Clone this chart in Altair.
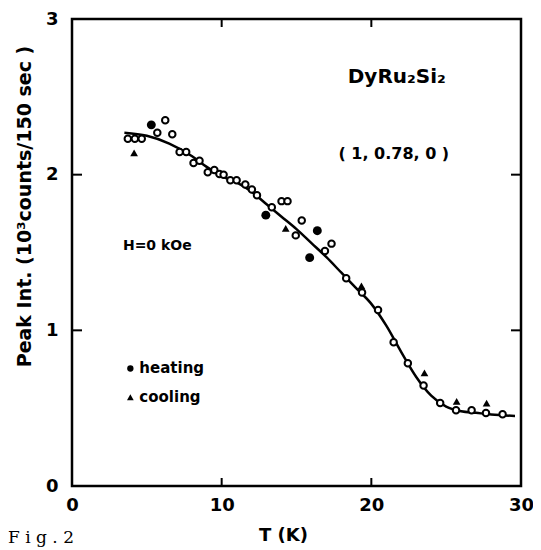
import altair as alt
import pandas as pd

# ---- data ----
open_T = [3.73, 4.2, 4.66, 5.7, 6.23, 6.7, 7.19, 7.63, 8.12, 8.52, 9.07, 9.51, 9.85, 10.13,
          10.58, 11.0, 11.58, 12.02, 12.36, 13.35, 14.0, 14.4, 15.35, 14.95, 16.9, 17.34,
          18.32, 19.38, 20.45, 21.49, 22.44, 23.49, 24.6, 25.66, 26.7, 27.66, 28.77]
open_I = [2.23, 2.23, 2.23, 2.27, 2.35, 2.26, 2.145, 2.145, 2.075, 2.09, 2.015, 2.03, 2.005, 2.0,
          1.964, 1.964, 1.937, 1.905, 1.868, 1.79, 1.83, 1.83, 1.706, 1.61, 1.51, 1.557,
          1.335, 1.243, 1.13, 0.923, 0.789, 0.646, 0.533, 0.486, 0.486, 0.469, 0.461]
heat_T = [5.3, 12.95, 15.88, 16.39]
heat_I = [2.32, 1.74, 1.467, 1.64]
cool_T = [4.15, 14.28, 19.34, 23.55, 25.7, 27.7]
cool_I = [2.14, 1.655, 1.286, 0.727, 0.544, 0.533]
curve_T = [3.5, 5.0, 6.5, 8, 9, 10, 11, 12, 13, 14, 15, 16, 17, 18, 19, 20, 21, 22, 23, 24,
           25, 26, 27, 28, 29.6]
curve_I = [2.27, 2.25, 2.2, 2.12, 2.05, 1.99, 1.95, 1.89, 1.81, 1.73, 1.65, 1.56, 1.47, 1.37,
           1.27, 1.17, 1.03, 0.86, 0.70, 0.58, 0.51, 0.48, 0.47, 0.46, 0.45]
x_ticks = [0, 10, 20, 30]
y_ticks = [0, 1, 2, 3]
inner_x_ticks = [10, 20]
inner_y_ticks = [1, 2]
notes = ["DyRu\u2082Si\u2082", "( 1, 0.78, 0 )", "H=0 kOe"]
notes_T = [21.7, 21.5, 5.7]
notes_I = [2.63, 2.13, 1.54]
notes_size = [20, 16, 14]
legend_labels = ["heating", "cooling"]
legend_T = [3.9, 3.9]
legend_I = [0.755, 0.57]
fig_label = ["F i g . 2"]

W, H = 449, 467
FONT = "DejaVu Sans"

xs = alt.Scale(domain=[0, 30], nice=False, zero=False)
ys = alt.Scale(domain=[0, 3], nice=False, zero=False)

xaxis = alt.Axis(values=x_ticks, format="d", ticks=False, domain=False, grid=False,
                 labelFont=FONT, labelFontWeight="bold", labelFontSize=18, labelColor="black",
                 labelPadding=10, labelFlush=False, labelOverlap=False, labelBound=False,
                 title="T (K)", titleFont=FONT, titleFontSize=18, titleFontWeight="bold",
                 titleColor="black", titleX=211, titleY=49, titleAnchor="middle",
                 titleBaseline="middle")
yaxis = alt.Axis(values=y_ticks, format="d", ticks=False, domain=False, grid=False,
                 labelFont=FONT, labelFontWeight="bold", labelFontSize=18, labelColor="black",
                 labelPadding=14, labelFlush=False, labelOverlap=False, labelBound=False,
                 title="Peak Int. (10\u00b3counts/150 sec )", titleFont=FONT, titleFontSize=19,
                 titleFontWeight="bold", titleColor="black", titleX=-38, titleY=187,
                 titleAnchor="middle")

df_open = pd.DataFrame({"T": open_T, "I": open_I})
df_heat = pd.DataFrame({"T": heat_T, "I": heat_I})
df_cool = pd.DataFrame({"T": cool_T, "I": cool_I})
df_curve = pd.DataFrame({"T": curve_T, "I": curve_I})

curve = alt.Chart(df_curve).mark_line(color="black", strokeWidth=2.5, interpolate="monotone").encode(
    x=alt.X("T:Q", scale=xs, axis=xaxis),
    y=alt.Y("I:Q", scale=ys, axis=yaxis),
)
opens = alt.Chart(df_open).mark_point(shape="circle", filled=False, color="black", size=42,
                                     strokeWidth=2, fill="white", opacity=1).encode(
    x=alt.X("T:Q", scale=xs), y=alt.Y("I:Q", scale=ys))
heats = alt.Chart(df_heat).mark_point(shape="circle", filled=True, color="black", size=80,
                                     opacity=1).encode(
    x=alt.X("T:Q", scale=xs), y=alt.Y("I:Q", scale=ys))
cools = alt.Chart(df_cool).mark_point(shape="triangle-up", filled=True, color="black", size=60,
                                     opacity=1).encode(
    x=alt.X("T:Q", scale=xs), y=alt.Y("I:Q", scale=ys))

# inward ticks on all four sides
df_xt = pd.DataFrame({"T": inner_x_ticks})
df_yt = pd.DataFrame({"I": inner_y_ticks})
tb = alt.Chart(df_xt).mark_rule(color="black", strokeWidth=2).encode(
    x=alt.X("T:Q", scale=xs), y=alt.value(H), y2=alt.value(H - 8))
tt = alt.Chart(df_xt).mark_rule(color="black", strokeWidth=2).encode(
    x=alt.X("T:Q", scale=xs), y=alt.value(0), y2=alt.value(8))
tl = alt.Chart(df_yt).mark_rule(color="black", strokeWidth=2).encode(
    y=alt.Y("I:Q", scale=ys), x=alt.value(0), x2=alt.value(10))
tr = alt.Chart(df_yt).mark_rule(color="black", strokeWidth=2).encode(
    y=alt.Y("I:Q", scale=ys), x=alt.value(W), x2=alt.value(W - 10))

df_notes = pd.DataFrame({"T": notes_T, "I": notes_I, "txt": notes, "sz": notes_size})
note_marks = alt.Chart(df_notes).mark_text(font=FONT, fontWeight="bold", color="black").encode(
    x=alt.X("T:Q", scale=xs), y=alt.Y("I:Q", scale=ys), text="txt:N",
    size=alt.Size("sz:Q", scale=None, legend=None))

df_leg = pd.DataFrame({"T": legend_T, "I": legend_I, "lab": legend_labels})
leg_sym_h = alt.Chart(df_leg.iloc[[0]]).mark_point(shape="circle", filled=True, color="black",
                                                   size=40, opacity=1).encode(
    x=alt.X("T:Q", scale=xs), y=alt.Y("I:Q", scale=ys))
leg_sym_c = alt.Chart(df_leg.iloc[[1]]).mark_point(shape="triangle-up", filled=True, color="black",
                                                   size=45, opacity=1).encode(
    x=alt.X("T:Q", scale=xs), y=alt.Y("I:Q", scale=ys))
leg_txt = alt.Chart(df_leg).mark_text(font=FONT, fontWeight="bold", color="black", fontSize=15,
                                      align="left", dx=9).encode(
    x=alt.X("T:Q", scale=xs), y=alt.Y("I:Q", scale=ys), text="lab:N")

fig = alt.Chart(pd.DataFrame({"t": fig_label})).mark_text(
    font="DejaVu Serif", fontSize=17, color="black", align="left",
    baseline="alphabetic").encode(text="t:N", x=alt.value(-64), y=alt.value(H + 57))

chart = alt.layer(curve, opens, heats, cools, tb, tt, tl, tr, note_marks,
                  leg_sym_h, leg_sym_c, leg_txt, fig).properties(
    width=W, height=H,
    autosize=alt.AutoSizeParams(type="none"),
    padding={"left": 64, "top": 11, "right": 12, "bottom": 64},
    background="white",
).configure_view(stroke="black", strokeWidth=2.5)

chart.save("out.html", embed_options={"renderer": "svg", "actions": False})
